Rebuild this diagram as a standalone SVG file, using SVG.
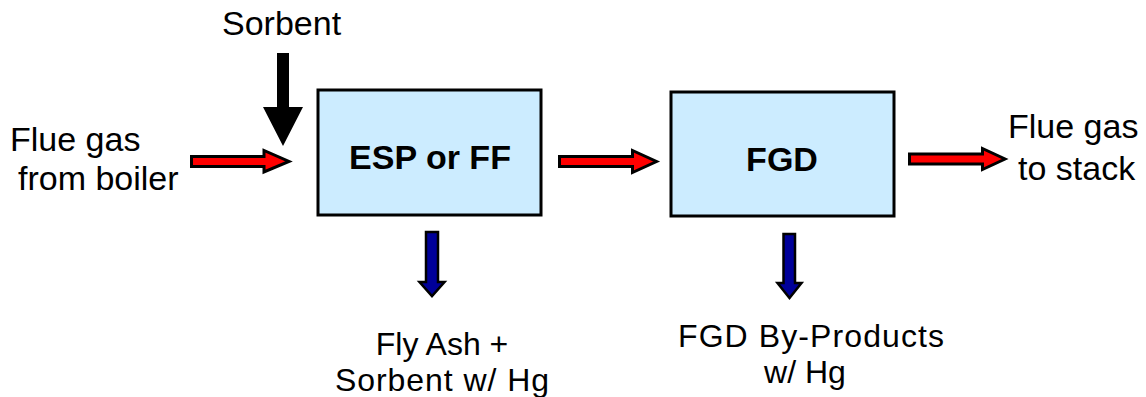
<svg xmlns="http://www.w3.org/2000/svg" width="1146" height="397" viewBox="0 0 1146 397">
<style>
.box{fill:#CCECFF;stroke:#000;stroke-width:3}
.lbl{font-family:"Liberation Sans",Arial,sans-serif;font-size:34px;fill:#000}
.sm{font-size:32px;text-anchor:middle}
.bold{font-weight:bold;text-anchor:middle}
.red{fill:#FF0000;stroke:#000;stroke-width:3;stroke-linejoin:miter}
.blue{fill:#000099;stroke:#000;stroke-width:2.5;stroke-linejoin:miter}
.blk{fill:#000}
</style>
<rect width="1146" height="397" fill="#fff"/>
<g id="esp">
<rect class="box" x="318" y="90" width="223" height="125"/>
<text class="lbl bold" x="430" y="169">ESP or FF</text>
</g>
<g id="fgd">
<rect class="box" x="671" y="92" width="223" height="124"/>
<text class="lbl bold" x="782" y="171">FGD</text>
</g>
<g id="sorbent">
<text class="lbl" x="222" y="35">Sorbent</text>
</g>
<g id="flue-in">
<text class="lbl" x="10" y="151">Flue gas</text>
<text class="lbl" x="18" y="190">from boiler</text>
</g>
<g id="flue-out">
<text class="lbl" x="1008" y="138">Flue gas</text>
<text class="lbl" x="1018" y="180">to stack</text>
</g>
<g id="flyash">
<text class="lbl sm" x="442" y="355">Fly Ash +</text>
<text class="lbl sm" x="442" y="391" textLength="214" lengthAdjust="spacing">Sorbent w/ Hg</text>
</g>
<g id="byproducts">
<text class="lbl sm" x="811" y="347" textLength="266" lengthAdjust="spacing">FGD By-Products</text>
<text class="lbl sm" x="805" y="383">w/ Hg</text>
</g>
<g id="connectors">
<polygon class="blk" points="277,53 289,53 289,107 303,107 283,146 263,107 277,107"/>
<polygon class="red" points="191.5,156.5 264,156.5 264,150.5 289,161.5 264,172 264,166.5 191.5,166.5"/>
<polygon class="red" points="559.5,156.5 632.5,156.5 632.5,150.5 656.5,161.5 632.5,172.5 632.5,166.5 559.5,166.5"/>
<polygon class="red" points="909.5,154 982.5,154 982.5,148.5 1005,159 982.5,169.5 982.5,164 909.5,164"/>
<polygon class="blue" points="426,232 438,232 438,282 444.5,282 432,296 419.5,282 426,282"/>
<polygon class="blue" points="783.5,234 795,234 795,283 801.5,283 789.5,298 777.5,283 783.5,283"/>
</g>
</svg>
